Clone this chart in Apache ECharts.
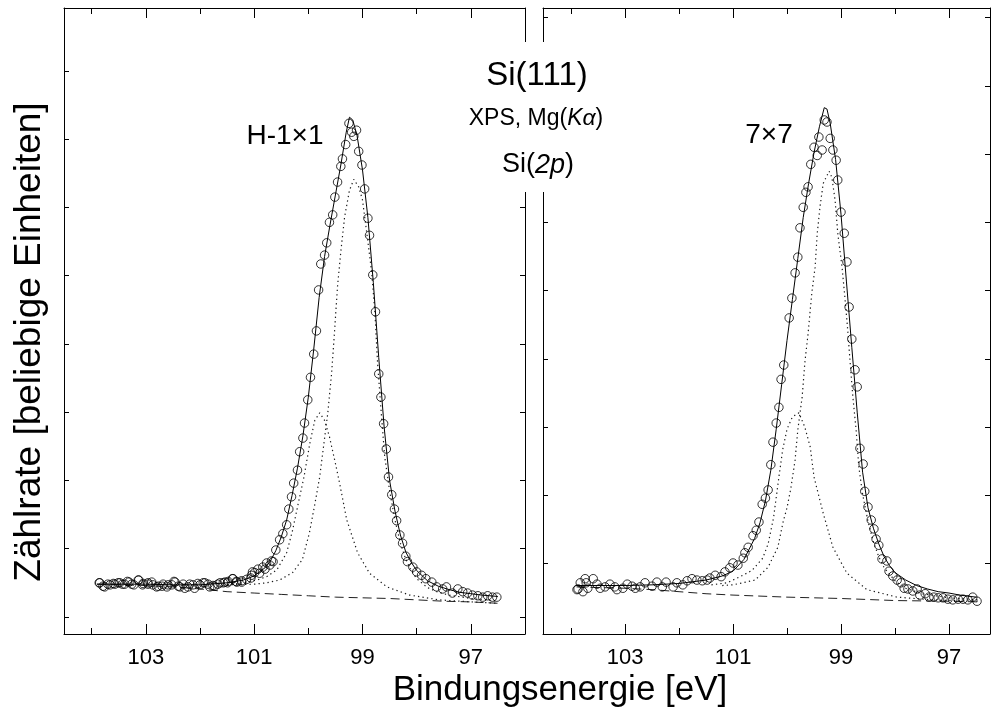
<!DOCTYPE html>
<html>
<head>
<meta charset="utf-8">
<script src="https://cdn.jsdelivr.net/npm/echarts@6/dist/echarts.min.js"></script>
<style>
  html, body { margin: 0; padding: 0; background: #fff; }
  #chart { width: 995px; height: 713px; }
</style>
</head>
<body>
<div id="chart"></div>
<script>
// ---- Daten: Bindungsenergie [eV], Zählrate [bel. Einh.] ----
const majorTicks = [97, 99, 101, 103];
const minorTicks = [96, 98, 100, 102, 104];
const yTicksH = [0, 1, 2, 3, 4, 5, 6, 7, 8];
const yTicksR = [0.78, 1.78, 2.78, 3.78, 4.78, 5.78, 6.78, 7.78, 8.78];

// H-1x1: Messpunkte
const hPoints = [
  [103.86,0.50],[103.85,0.50],[103.79,0.45],[103.76,0.44],[103.70,0.48],[103.66,0.47],[103.60,0.49],
  [103.57,0.48],[103.51,0.50],[103.48,0.50],[103.43,0.48],[103.39,0.48],[103.34,0.52],[103.31,0.51],
  [103.26,0.48],[103.22,0.47],[103.14,0.54],[103.13,0.54],[103.06,0.47],[103.05,0.49],[102.96,0.48],
  [102.96,0.50],[102.89,0.51],[102.87,0.47],[102.80,0.44],[102.77,0.45],[102.70,0.45],[102.68,0.48],
  [102.61,0.44],[102.59,0.47],[102.52,0.47],[102.48,0.52],[102.46,0.51],[102.40,0.45],[102.37,0.44],
  [102.31,0.48],[102.28,0.42],[102.22,0.44],[102.19,0.48],[102.13,0.47],[102.10,0.42],[102.04,0.49],
  [102.00,0.47],[101.94,0.50],[101.91,0.50],[101.85,0.48],[101.82,0.44],[101.76,0.46],[101.73,0.45],
  [101.67,0.48],[101.63,0.50],[101.57,0.50],[101.54,0.51],[101.49,0.50],[101.48,0.52],[101.40,0.56],
  [101.39,0.56],[101.33,0.52],[101.32,0.51],[101.23,0.53],[101.23,0.51],[101.14,0.55],[101.06,0.57],
  [101.05,0.61],[101.03,0.66],[100.99,0.65],[100.93,0.70],[100.90,0.64],[100.84,0.73],[100.80,0.70],
  [100.77,0.79],[100.71,0.76],[100.68,0.82],[100.65,0.81],[100.60,0.98],[100.53,1.13],[100.47,1.22],
  [100.40,1.35],[100.36,1.58],[100.31,1.76],[100.27,1.96],[100.20,2.15],[100.16,2.42],[100.10,2.62],
  [100.07,2.84],[100.01,3.18],[99.96,3.51],[99.90,3.85],[99.85,4.19],[99.81,4.79],[99.77,5.17],
  [99.70,5.30],[99.66,5.48],[99.61,5.78],[99.55,5.89],[99.51,6.15],[99.46,6.37],[99.40,6.60],
  [99.37,6.71],[99.31,6.92],[99.25,7.23],[99.20,7.10],[99.16,7.04],[99.11,7.13],[99.07,6.82],
  [99.01,6.62],[98.96,6.27],[98.90,5.84],[98.87,5.59],[98.81,5.01],[98.76,4.47],[98.70,3.56],
  [98.66,3.22],[98.61,2.83],[98.56,2.46],[98.52,2.05],[98.46,1.79],[98.41,1.58],[98.37,1.41],
  [98.31,1.20],[98.26,1.08],[98.20,0.89],[98.17,0.81],[98.07,0.73],[98.00,0.66],[97.91,0.61],
  [97.83,0.56],[97.72,0.51],[97.63,0.44],[97.52,0.41],[97.45,0.44],[97.34,0.35],[97.24,0.41],
  [97.15,0.37],[97.06,0.35],[96.97,0.32],[96.87,0.31],[96.78,0.29],[96.69,0.31],[96.60,0.29],
  [96.52,0.29]
];
// H-1x1: Anpassung (durchgezogen), Komponenten (punktiert), Untergrund (gestrichelt)
const hFit = [
  [103.9,0.48],[103.5,0.48],[103.0,0.48],[102.5,0.47],[102.0,0.47],[101.5,0.50],[101.2,0.54],
  [101.0,0.60],[100.8,0.72],[100.7,0.82],[100.6,0.97],[100.5,1.17],[100.4,1.42],[100.3,1.78],
  [100.2,2.18],[100.1,2.65],[100.0,3.22],[99.9,3.92],[99.8,4.68],[99.7,5.28],[99.6,5.74],
  [99.5,6.18],[99.4,6.62],[99.3,7.10],[99.24,7.32],[99.18,7.28],[99.1,7.05],[99.0,6.55],
  [98.9,5.85],[98.8,4.90],[98.7,3.80],[98.6,2.78],[98.5,2.00],[98.4,1.55],[98.3,1.20],
  [98.2,0.95],[98.1,0.80],[98.0,0.68],[97.8,0.53],[97.6,0.45],[97.4,0.40],[97.2,0.36],
  [97.0,0.34],[96.8,0.32],[96.5,0.30]
];
const hBig = [
  [101.5,0.47],[101.0,0.48],[100.77,0.50],[100.53,0.54],[100.29,0.65],[100.11,0.84],[99.98,1.23],
  [99.88,1.65],[99.79,2.05],[99.72,2.49],[99.64,2.99],[99.57,3.57],[99.51,4.25],[99.46,4.85],
  [99.40,5.35],[99.33,5.86],[99.24,6.25],[99.16,6.41],[99.07,6.30],[99.0,6.11],[98.92,5.62],
  [98.83,5.05],[98.77,4.45],[98.72,3.70],[98.65,2.95],[98.59,2.35],[98.5,1.85],[98.4,1.42],
  [98.3,1.08],[98.2,0.84],[98.1,0.68],[98.0,0.56],[97.8,0.43],[97.6,0.36],[97.4,0.32],
  [97.0,0.27],[96.5,0.23]
];
const hSmall = [
  [101.5,0.47],[101.2,0.50],[100.95,0.54],[100.77,0.59],[100.58,0.69],[100.40,0.94],[100.29,1.27],
  [100.20,1.61],[100.08,2.05],[99.97,2.55],[99.88,2.88],[99.79,2.99],[99.70,2.88],[99.61,2.64],
  [99.50,2.25],[99.42,1.95],[99.29,1.42],[99.09,0.94],[98.87,0.64],[98.55,0.44],[98.13,0.32],
  [97.58,0.25],[97.0,0.22],[96.5,0.20]
];
const hBg = [
  [103.9,0.48],[103.0,0.46],[102.5,0.44],[102.0,0.41],[101.5,0.37],[101.0,0.35],[100.5,0.33],
  [100.0,0.31],[99.5,0.29],[99.0,0.28],[98.5,0.27],[98.0,0.25],[97.5,0.23],[97.0,0.22],[96.5,0.20]
];

// 7x7: Messpunkte
const rPoints = [
  [103.89,0.40],[103.87,0.41],[103.83,0.50],[103.78,0.37],[103.74,0.56],[103.72,0.50],[103.69,0.42],
  [103.59,0.56],[103.52,0.48],[103.46,0.42],[103.37,0.44],[103.28,0.48],[103.19,0.44],[103.15,0.40],
  [103.04,0.42],[102.96,0.48],[102.87,0.45],[102.81,0.42],[102.72,0.44],[102.63,0.50],[102.50,0.45],
  [102.41,0.51],[102.31,0.44],[102.24,0.51],[102.11,0.44],[102.04,0.50],[101.93,0.47],[101.85,0.53],
  [101.76,0.56],[101.67,0.54],[101.57,0.53],[101.48,0.54],[101.43,0.57],[101.33,0.61],[101.22,0.59],
  [101.15,0.66],[101.06,0.72],[101.00,0.79],[100.91,0.76],[100.81,0.86],[100.78,0.94],[100.72,1.02],
  [100.63,1.19],[100.57,1.27],[100.52,1.39],[100.46,1.65],[100.40,1.74],[100.35,1.86],[100.30,2.23],
  [100.26,2.56],[100.20,2.84],[100.15,3.07],[100.11,3.48],[100.06,3.69],[99.96,4.38],[99.91,4.67],
  [99.85,5.04],[99.80,5.27],[99.76,5.70],[99.70,6.00],[99.65,6.22],[99.61,6.30],[99.56,6.63],
  [99.50,6.88],[99.44,6.76],[99.41,7.03],[99.35,6.84],[99.31,7.28],[99.26,7.25],[99.20,7.01],
  [99.15,6.84],[99.09,6.69],[99.06,6.40],[99.00,5.93],[98.94,5.62],[98.89,5.20],[98.85,4.54],
  [98.80,4.07],[98.74,3.62],[98.70,3.37],[98.65,2.47],[98.59,2.24],[98.56,1.84],[98.50,1.61],
  [98.44,1.42],[98.39,1.29],[98.35,1.14],[98.30,1.05],[98.24,0.85],[98.15,0.82],[98.11,0.67],
  [98.04,0.60],[97.96,0.54],[97.89,0.50],[97.83,0.42],[97.76,0.41],[97.67,0.38],[97.59,0.41],
  [97.54,0.32],[97.44,0.34],[97.37,0.29],[97.28,0.29],[97.20,0.28],[97.11,0.28],[97.02,0.26],
  [96.93,0.25],[96.83,0.26],[96.74,0.26],[96.65,0.25],[96.56,0.29],[96.48,0.23]
];
const rFit = [
  [103.9,0.46],[103.0,0.46],[102.5,0.47],[102.0,0.49],[101.5,0.54],[101.2,0.60],[101.0,0.67],
  [100.8,0.84],[100.6,1.15],[100.5,1.38],[100.4,1.70],[100.3,2.15],[100.2,2.75],[100.1,3.40],
  [100.0,4.05],[99.9,4.65],[99.8,5.25],[99.7,5.85],[99.6,6.35],[99.5,6.80],[99.4,7.18],
  [99.31,7.46],[99.26,7.44],[99.2,7.23],[99.1,6.70],[99.0,5.90],[98.9,4.92],[98.8,3.95],
  [98.7,3.00],[98.6,2.12],[98.5,1.60],[98.4,1.30],[98.3,1.07],[98.2,0.88],[98.1,0.75],
  [98.0,0.65],[97.8,0.54],[97.6,0.46],[97.4,0.41],[97.2,0.37],[97.0,0.35],[96.8,0.32],[96.5,0.29]
];
const rBig = [
  [101.2,0.46],[101.0,0.47],[100.59,0.54],[100.35,0.73],[100.17,1.02],[100.07,1.40],[100.0,1.60],
  [99.93,1.88],[99.85,2.30],[99.80,2.74],[99.72,3.22],[99.67,3.72],[99.61,4.15],[99.54,4.75],
  [99.48,5.12],[99.44,5.62],[99.39,6.00],[99.33,6.35],[99.22,6.53],[99.17,6.44],[99.11,6.11],
  [99.06,5.62],[98.98,5.12],[98.93,4.70],[98.87,4.15],[98.83,3.72],[98.78,3.22],[98.72,2.74],
  [98.67,2.20],[98.6,1.80],[98.5,1.40],[98.4,1.10],[98.3,0.88],[98.2,0.72],[98.0,0.53],
  [97.8,0.42],[97.5,0.34],[97.0,0.28],[96.45,0.25]
];
const rSmall = [
  [101.4,0.47],[101.11,0.50],[100.87,0.59],[100.65,0.68],[100.45,0.86],[100.35,1.07],[100.25,1.45],
  [100.15,2.05],[100.08,2.45],[100.0,2.75],[99.9,2.93],[99.78,2.99],[99.67,2.78],[99.57,2.49],
  [99.50,2.05],[99.33,1.52],[99.15,1.02],[98.89,0.64],[98.52,0.40],[97.96,0.29],[97.3,0.25],[96.45,0.23]
];
const rBg = [
  [103.9,0.44],[103.0,0.42],[102.5,0.40],[102.0,0.37],[101.5,0.34],[101.0,0.32],[100.0,0.29],
  [99.0,0.27],[98.0,0.24],[97.0,0.23],[96.45,0.22]
];

const FONT = '"Liberation Sans", Arial, Helvetica, sans-serif';
const chart = echarts.init(document.getElementById('chart'), null, { renderer: 'canvas' });

const grids = [
  { left: 64, top: 8, width: 461, height: 626 },
  { left: 543, top: 8, width: 447, height: 626 }
];
const xRanges = [[96.0, 104.51], [96.24, 104.52]];
const yTickSets = [yTicksH, yTicksR];

const xAxes = [];
const yAxes = [];
grids.forEach((g, gi) => {
  const [mn, mx] = xRanges[gi];
  const base = { type: 'value', gridIndex: gi, min: mn, max: mx, inverse: true, splitLine: { show: false } };
  // unten: Hauptstriche + Beschriftung
  xAxes.push(Object.assign({}, base, {
    position: 'bottom',
    axisLine: { show: true, onZero: false, lineStyle: { color: '#000', width: 1 } },
    axisTick: { show: true, inside: true, length: 10, customValues: majorTicks, lineStyle: { color: '#000' } },
    axisLabel: { show: true, customValues: majorTicks, margin: 13, fontSize: 22, color: '#000', fontFamily: FONT }
  }));
  // unten: Nebenstriche
  xAxes.push(Object.assign({}, base, {
    position: 'bottom',
    axisLine: { show: false, onZero: false },
    axisTick: { show: true, inside: true, length: 6, customValues: minorTicks, lineStyle: { color: '#000' } },
    axisLabel: { show: false }
  }));
  // oben: Hauptstriche
  xAxes.push(Object.assign({}, base, {
    position: 'top',
    axisLine: { show: true, onZero: false, lineStyle: { color: '#000', width: 1 } },
    axisTick: { show: true, inside: true, length: 10, customValues: majorTicks, lineStyle: { color: '#000' } },
    axisLabel: { show: false }
  }));
  // oben: Nebenstriche
  xAxes.push(Object.assign({}, base, {
    position: 'top',
    axisLine: { show: false, onZero: false },
    axisTick: { show: true, inside: true, length: 6, customValues: minorTicks, lineStyle: { color: '#000' } },
    axisLabel: { show: false }
  }));

  ['left', 'right'].forEach(pos => {
    yAxes.push({
      type: 'value', gridIndex: gi, position: pos, min: -0.25, max: 8.92,
      splitLine: { show: false },
      axisLine: { show: true, onZero: false, lineStyle: { color: '#000', width: 1 } },
      axisTick: { show: true, inside: true, length: 5, customValues: yTickSets[gi], lineStyle: { color: '#000' } },
      axisLabel: { show: false }
    });
  });
});

function lineSeries(gi, data, style) {
  return {
    type: 'line', xAxisIndex: gi * 4, yAxisIndex: gi * 2, data: data,
    showSymbol: false, symbol: 'none', smooth: false, silent: true, z: 2,
    lineStyle: style
  };
}
function pointSeries(gi, data) {
  return {
    type: 'scatter', xAxisIndex: gi * 4, yAxisIndex: gi * 2, data: data,
    symbol: 'circle', symbolSize: 8.5, silent: true, z: 3,
    itemStyle: { color: 'rgba(255,255,255,0)', borderColor: '#000', borderWidth: 1 }
  };
}

const solid = { color: '#000', width: 1 };
const dotted = { color: '#1a1a1a', width: 1.2, type: [1.3, 3.2] };
const dashed = { color: '#222', width: 1, type: [9, 5] };

const series = [
  lineSeries(0, hBg, dashed),
  lineSeries(0, hBig, dotted),
  lineSeries(0, hSmall, dotted),
  lineSeries(0, hFit, solid),
  pointSeries(0, hPoints),
  lineSeries(1, rBg, dashed),
  lineSeries(1, rBig, dotted),
  lineSeries(1, rSmall, dotted),
  lineSeries(1, rFit, solid),
  pointSeries(1, rPoints)
];

function txt(x, y, text, size, extra) {
  return Object.assign({
    type: 'text', x: x, y: y, z: 60,
    style: {
      text: text, fill: '#000', fontSize: size, fontFamily: FONT,
      align: 'center', verticalAlign: 'middle', textAlign: 'center', textVerticalAlign: 'middle'
    }
  }, extra || {});
}

const italic = (size) => ({ fontStyle: 'italic', fontSize: size, fontFamily: FONT, fill: '#000' });

chart.setOption({
  animation: false,
  backgroundColor: '#fff',
  grid: grids,
  xAxis: xAxes,
  yAxis: yAxes,
  series: series,
  graphic: [
    // Lücke im Rahmen für den Titel
    { type: 'rect', z: 50, shape: { x: 518, y: 42, width: 32, height: 150 }, style: { fill: '#fff' } },
    txt(537, 76, 'Si(111)', 33),
    {
      type: 'text', x: 536, y: 119, z: 60,
      style: {
        text: 'XPS, Mg({i|Kα})', fill: '#000', fontSize: 23, fontFamily: FONT,
        align: 'center', verticalAlign: 'middle', textAlign: 'center', textVerticalAlign: 'middle',
        rich: { i: italic(23) }
      }
    },
    {
      type: 'text', x: 538, y: 165, z: 60,
      style: {
        text: 'Si({i|2p})', fill: '#000', fontSize: 27, fontFamily: FONT,
        align: 'center', verticalAlign: 'middle', textAlign: 'center', textVerticalAlign: 'middle',
        rich: { i: italic(27) }
      }
    },
    txt(285, 136, 'H-1×1', 28),
    txt(769, 135, '7×7', 28),
    txt(30, 342, 'Zählrate [beliebige Einheiten]', 37, { rotation: Math.PI / 2 }),
    txt(560, 690, 'Bindungsenergie [eV]', 35)
  ]
});
</script>
</body>
</html>
